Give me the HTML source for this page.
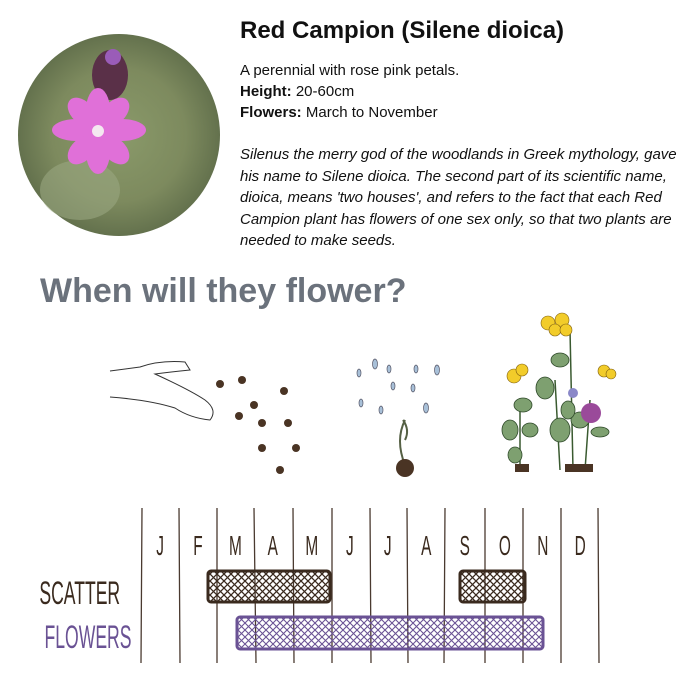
<!DOCTYPE html>
<html><head><meta charset="utf-8"><style>
body{margin:0;width:700px;height:700px;background:#fff;position:relative;overflow:hidden;font-family:"Liberation Sans",sans-serif;color:#111}
.a{position:absolute;white-space:nowrap}
</style></head><body>
<svg class="a" style="left:0;top:0" width="700" height="700">
<defs>
<radialGradient id="bg" cx="50%" cy="50%" r="55%"><stop offset="0" stop-color="#8a9a6a"/><stop offset="0.6" stop-color="#7d8a5e"/><stop offset="1" stop-color="#5c6a48"/></radialGradient>
<pattern id="h1" width="7" height="7" patternUnits="userSpaceOnUse"><path d="M0 0L7 7M7 0L0 7" stroke="#3a2a1e" stroke-width="1.3"/></pattern>
<pattern id="h2" width="7" height="7" patternUnits="userSpaceOnUse"><path d="M0 0L7 7M7 0L0 7" stroke="#6a5294" stroke-width="1.1"/></pattern>
</defs>
<circle cx="119" cy="135" r="101" fill="url(#bg)"/>
<ellipse cx="80" cy="190" rx="40" ry="30" fill="#9aa680" opacity=".6"/>
<ellipse cx="110" cy="75" rx="18" ry="25" fill="#5a3048"/>
<circle cx="113" cy="57" r="8" fill="#9a5cb8"/>
<g fill="#e070d8">
<ellipse cx="98" cy="110" rx="12" ry="22"/><ellipse cx="98" cy="152" rx="12" ry="22"/>
<ellipse cx="76" cy="130" rx="24" ry="11"/><ellipse cx="122" cy="130" rx="24" ry="11"/>
<ellipse cx="82" cy="112" rx="17" ry="11" transform="rotate(45 82 112)"/><ellipse cx="115" cy="112" rx="17" ry="11" transform="rotate(-45 115 112)"/>
<ellipse cx="82" cy="150" rx="17" ry="11" transform="rotate(-45 82 150)"/><ellipse cx="115" cy="150" rx="17" ry="11" transform="rotate(45 115 150)"/>
</g>
<circle cx="98" cy="131" r="6" fill="#f4e8f0"/>
<!-- hand -->
<path d="M110 371 L140 367 Q160 360 185 362 L190 370 Q170 372 155 374 Q190 390 205 400 Q218 410 210 420 Q190 418 175 408 Q150 400 110 397" fill="none" stroke="#333" stroke-width="1"/>
<g fill="#4a3424">
<circle cx="220" cy="384" r="4"/><circle cx="242" cy="380" r="4"/><circle cx="284" cy="391" r="4"/><circle cx="254" cy="405" r="4"/><circle cx="239" cy="416" r="4"/><circle cx="262" cy="423" r="4"/><circle cx="288" cy="423" r="4"/><circle cx="262" cy="448" r="4"/><circle cx="296" cy="448" r="4"/><circle cx="280" cy="470" r="4"/>
</g>
<g fill="#a8c0d8" stroke="#556" stroke-width=".7">
<ellipse cx="359" cy="373" rx="2" ry="4"/><ellipse cx="375" cy="364" rx="2.5" ry="5"/><ellipse cx="389" cy="369" rx="2" ry="4"/><ellipse cx="416" cy="369" rx="2" ry="4"/><ellipse cx="437" cy="370" rx="2.5" ry="5"/><ellipse cx="393" cy="386" rx="2" ry="4"/><ellipse cx="413" cy="388" rx="2" ry="4"/><ellipse cx="361" cy="403" rx="2" ry="4"/><ellipse cx="381" cy="410" rx="2" ry="4"/><ellipse cx="426" cy="408" rx="2.5" ry="5"/>
</g>
<path d="M405 465 Q395 440 405 420 M405 440 Q410 430 403 420" stroke="#556044" fill="none" stroke-width="2"/>
<circle cx="405" cy="468" r="9" fill="#4a3424"/>
<!-- plants -->
<g stroke="#3a5a30" fill="none" stroke-width="1.5"><path d="M573 470 L570 330 M560 470 L555 380 M585 470 L590 400 M520 470 L520 400"/></g>
<g fill="#7ea070" stroke="#2f4a2a" stroke-width=".8">
<ellipse cx="560" cy="360" rx="9" ry="7"/><ellipse cx="545" cy="388" rx="9" ry="11"/><ellipse cx="523" cy="405" rx="9" ry="7"/><ellipse cx="510" cy="430" rx="8" ry="10"/><ellipse cx="530" cy="430" rx="8" ry="7"/><ellipse cx="560" cy="430" rx="10" ry="12"/><ellipse cx="580" cy="420" rx="9" ry="8"/><ellipse cx="600" cy="432" rx="9" ry="5"/><ellipse cx="515" cy="455" rx="7" ry="8"/><ellipse cx="568" cy="410" rx="7" ry="9"/>
</g>
<g fill="#f2cc2a" stroke="#806010" stroke-width=".6">
<circle cx="548" cy="323" r="7"/><circle cx="562" cy="320" r="7"/><circle cx="555" cy="330" r="6"/><circle cx="566" cy="330" r="6"/>
<circle cx="514" cy="376" r="7"/><circle cx="522" cy="370" r="6"/><circle cx="604" cy="371" r="6"/><circle cx="611" cy="374" r="5"/>
</g>
<circle cx="591" cy="413" r="10" fill="#9a4a9a"/>
<circle cx="573" cy="393" r="5" fill="#8a88c8"/>
<rect x="515" y="464" width="14" height="8" fill="#4a3424"/><rect x="565" y="464" width="28" height="8" fill="#4a3424"/>
<!-- chart -->
<g stroke="#4a3a30" stroke-width="1.3">
<path d="M142 508L141 663M179 508L180 663M217 508L217 663M254 508L256 663M293 508L294 663M332 508L332 663M370 508L371 663M407 508L408 663M445 508L444 663M485 508L485 663M523 508L523 663M561 508L561 663M598 508L599 663"/>
</g>
<rect x="208" y="571" width="122" height="31" rx="3" fill="url(#h1)" stroke="#3a2a1e" stroke-width="3"/>
<rect x="460" y="571" width="65" height="31" rx="3" fill="url(#h1)" stroke="#3a2a1e" stroke-width="3"/>
<rect x="237" y="617" width="306" height="32" rx="3" fill="url(#h2)" stroke="#6a5294" stroke-width="3"/>
<g font-family="Liberation Sans Narrow,Liberation Sans,sans-serif" font-size="28" fill="#3a2a1e" text-anchor="middle" transform="scale(0.55 1)">
<text x="291" y="555">J</text><text x="360" y="555">F</text><text x="428" y="555">M</text><text x="496" y="555">A</text><text x="567" y="555">M</text><text x="636" y="555">J</text><text x="705" y="555">J</text><text x="775" y="555">A</text><text x="845" y="555">S</text><text x="918" y="555">O</text><text x="987" y="555">N</text><text x="1055" y="555">D</text>
<text x="145" y="604" font-size="32" fill="#3a2a1e">SCATTER</text>
<text x="160" y="648" font-size="32" fill="#6a5294">FLOWERS</text>
</g>
</svg>
<div class="a" style="left:240px;top:17px;font-size:24px;font-weight:bold">Red Campion (Silene dioica)</div>
<div class="a" style="left:240px;top:60px;font-size:15px;line-height:21px">A perennial with rose pink petals.<br><b>Height:</b> 20-60cm<br><b>Flowers:</b> March to November</div>
<div class="a" style="left:240px;top:144px;font-size:15px;line-height:21.5px;font-style:italic">Silenus the merry god of the woodlands in Greek mythology, gave<br>his name to Silene dioica. The second part of its scientific name,<br>dioica, means 'two houses', and refers to the fact that each Red<br>Campion plant has flowers of one sex only, so that two plants are<br>needed to make seeds.</div>
<div class="a" style="left:40px;top:272px;font-size:34px;font-weight:bold;color:#6b727c">When will they flower?</div>
</body></html>
